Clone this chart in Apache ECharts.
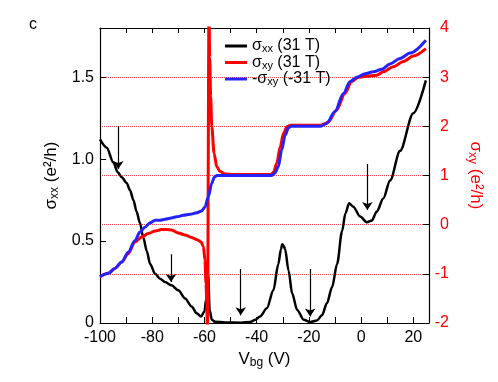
<!DOCTYPE html>
<html><head><meta charset="utf-8">
<script src="https://cdn.jsdelivr.net/npm/echarts@6/dist/echarts.min.js"></script>
<style>html,body{margin:0;padding:0;background:#fff}#c{width:498px;height:382px}</style>
</head><body><div id="c"></div>
<script>
const FONT = '"Liberation Sans", Arial, Helvetica, sans-serif';

// sigma_xx (31 T), left axis (e^2/h)
const sxxX = [-100,-97.4,-94.9,-93.2,-91.7,-89.8,-88.5,-87.2,-86.0,-84.7,-83.4,-82.1,-80.8,-78.9,-77.0,-75.1,-72.6,-70.0,-67.4,-64.9,-63.0,-61.3,-60.0,-59.3,-58.6,-58.0,-57.2,-56.0,-52,-46,-42.5,-40.5,-38.7,-36.1,-33.6,-31.7,-30.7,-30.2,-29.6,-29.1,-27.8,-26.4,-24.5,-22.0,-19.5,-16.9,-15.0,-13.1,-11.1,-9.2,-7.3,-6.0,-4.6,-3.0,-0.4,2.2,4.1,6.0,8.5,11.1,14.9,20.0,24.8];
const sxxY = [1.12,1.07,0.98,0.92,0.89,0.855,0.81,0.75,0.68,0.61,0.52,0.44,0.36,0.30,0.27,0.25,0.23,0.20,0.15,0.10,0.06,0.04,0.07,0.15,0.30,0.08,0.02,0.008,0.003,0.002,0.006,0.02,0.04,0.09,0.20,0.36,0.45,0.48,0.47,0.45,0.32,0.18,0.08,0.02,0.006,0.016,0.047,0.12,0.22,0.36,0.56,0.67,0.73,0.71,0.65,0.615,0.626,0.68,0.76,0.87,1.05,1.28,1.48];

// sigma_xy (31 T), right axis (e^2/h)
const sxyX = [-100,-96.8,-94.3,-91.7,-89.2,-86.6,-84.0,-81.5,-78.9,-76.4,-74.4,-72.6,-70.0,-67.4,-64.9,-63.0,-61.3,-60.4,-59.8,-59.4,-59.1,-58.85,-58.25,-58.0,-57.6,-57.2,-56.3,-55.3,-54,-52,-49,-34.5,-33.5,-32.3,-31.0,-29.7,-28.4,-27,-15.5,-14,-12.6,-9.4,-6.2,-3.6,-1.1,2.1,6.0,8.5,12.3,16.2,20.0,24.8];
const sxyY = [-1.06,-0.99,-0.89,-0.76,-0.59,-0.35,-0.25,-0.18,-0.13,-0.10,-0.10,-0.11,-0.17,-0.21,-0.26,-0.30,-0.35,-0.45,-0.72,-1.2,-1.6,-2.3,4.5,3.4,2.6,2.0,1.45,1.18,1.08,1.03,1.02,1.02,1.07,1.25,1.58,1.86,1.99,2.02,2.02,2.05,2.09,2.33,2.67,2.91,3.0,3.02,3.04,3.11,3.21,3.32,3.43,3.58];

// -sigma_xy (-31 T), right axis (e^2/h)
const msxyX = [-100,-96.8,-94.3,-91.7,-89.2,-86.6,-84.7,-82.8,-80.8,-78.9,-77.0,-75.1,-73.2,-70.6,-68.1,-65.5,-63.0,-61.1,-59.8,-58.5,-57.2,-56.2,-55.2,-34.2,-33.0,-31.7,-30.4,-29.1,-27.8,-26.8,-15.5,-13.2,-10.0,-6.8,-4.2,-1.7,1.5,4.7,7.9,11.1,14.9,18.8,24.8];
const msxyY = [-1.06,-0.99,-0.89,-0.76,-0.56,-0.32,-0.15,-0.05,0.04,0.09,0.09,0.11,0.13,0.16,0.19,0.21,0.24,0.28,0.36,0.57,0.84,0.97,1.0,1.0,1.05,1.18,1.52,1.82,1.97,2.0,2.0,2.06,2.30,2.67,2.91,3.0,3.07,3.11,3.16,3.27,3.38,3.49,3.75];

// legend names
const legendNames = ['sxx', 'sxy', 'msxy'];
const legendText = {
  sxx: 'σ{sub|xx} (31 T)',
  sxy: 'σ{sub|xy} (31 T)',
  msxy: '-σ{sub|xy} (-31 T)'
};

// in-plot labels (left-axis coordinates)
const annX = [-96.2, -74.1, -44.0, -19.5, 3.4];
const annY = [0.376, 0.677, 1.01, 1.29, 1.60];
const annText = ['-1', '0', 'ν=1', '2', '3'];

// arrows (left-axis coordinates)
const arrowX = [-93, -72.8, -46.1, -19.5, 2.4];
const arrowTop = [1.20, 0.42, 0.33, 0.33, 0.97];
const arrowTip = [0.94, 0.25, 0.047, 0.04, 0.69];

const pairs = (xs, ys) => xs.map((x, i) => [x, ys[i]]);

const chart = echarts.init(document.getElementById('c'));
const subRich = { sub: { fontSize: 11, padding: [6, 0, 0, 0], fontFamily: FONT } };
const subRich17 = { sub: { fontSize: 12, padding: [7, 0, 0, 0], fontFamily: FONT } };

const option = {
  animation: false,
  backgroundColor: '#fff',
  textStyle: { fontFamily: FONT },
  grid: { left: 100, right: 69, top: 28, bottom: 59 },
  graphic: [{
    type: 'text', left: 29, top: 17,
    style: { text: 'c', fontSize: 16, fontFamily: FONT, fill: '#000' }
  }],
  legend: {
    orient: 'vertical', left: 220, top: 33,
    itemWidth: 22, itemHeight: 3, itemGap: 0, icon: 'rect',
    data: legendNames,
    formatter: n => legendText[n],
    textStyle: { fontSize: 16, fontFamily: FONT, color: '#000', lineHeight: 16, rich: subRich }
  },
  xAxis: [{
    type: 'value', min: -100, max: 26, interval: 10, position: 'bottom',
    axisLine: { show: true, onZero: false, lineStyle: { color: '#000', width: 1.2 } },
    axisTick: { show: true, inside: true, length: 6, lineStyle: { color: '#000' } },
    axisLabel: { fontSize: 16, color: '#000', margin: 7, fontFamily: FONT, showMaxLabel: false,
      formatter: v => (Math.round(v) % 20 === 0 && v <= 20) ? String(v) : '' },
    splitLine: { show: false },
    name: 'V{sub|bg} (V)', nameLocation: 'middle', nameGap: 25,
    nameTextStyle: { fontSize: 17, color: '#000', fontFamily: FONT, rich: subRich17 }
  }, {
    type: 'value', min: -100, max: 26, interval: 10, position: 'top',
    axisLine: { show: true, onZero: false, lineStyle: { color: '#000', width: 1.2 } },
    axisTick: { show: true, inside: true, length: 5, lineStyle: { color: '#000' } },
    axisLabel: { show: false }, splitLine: { show: false }
  }],
  yAxis: [{
    type: 'value', min: 0, max: 1.8, interval: 0.5, position: 'left',
    axisLine: { show: true, onZero: false, lineStyle: { color: '#000', width: 1.2 } },
    axisTick: { show: true, inside: true, length: 6, lineStyle: { color: '#000' } },
    axisLabel: { fontSize: 16, color: '#000', margin: 6, fontFamily: FONT, showMaxLabel: false,
      formatter: v => v === 0 ? '0' : (v > 1.7 ? '' : v.toFixed(1)) },
    splitLine: { show: false },
    name: 'σ{sub|xx} (e²/h)', nameLocation: 'middle', nameGap: 33, nameRotate: 90,
    nameTextStyle: { fontSize: 17, color: '#000', fontFamily: FONT, rich: subRich17 }
  }, {
    type: 'value', min: -2, max: 4, interval: 1, position: 'right',
    axisLine: { show: true, onZero: false, lineStyle: { color: '#000', width: 1.2 } },
    axisTick: { show: true, inside: true, length: 6, lineStyle: { color: '#000' } },
    axisLabel: { fontSize: 16, color: '#ff0000', margin: 20, align: 'right', fontFamily: FONT },
    splitLine: { show: true, showMinLine: false, showMaxLine: false,
      lineStyle: { color: '#e83a3a', type: 'dotted', width: 1, opacity: 0.9 } },
    name: 'σ{sub|xy} (e²/h)', nameLocation: 'middle', nameGap: 37, nameRotate: -90,
    nameTextStyle: { fontSize: 17, color: '#ff0000', fontFamily: FONT,
      rich: { sub: { fontSize: 12, padding: [7, 0, 0, 0], color: '#ff0000', fontFamily: FONT } } }
  }],
  series: [{
    name: 'sxx', type: 'line', xAxisIndex: 0, yAxisIndex: 0,
    data: pairs(sxxX, sxxY), showSymbol: false, symbol: 'none',
    smooth: 0.3, smoothMonotone: 'x', clip: true,
    color: '#000', lineStyle: { color: '#000', width: 2.5 }, z: 2
  }, {
    name: 'sxy', type: 'line', xAxisIndex: 0, yAxisIndex: 1,
    data: pairs(sxyX, sxyY), showSymbol: false, symbol: 'none',
    smooth: 0.3, smoothMonotone: 'x', clip: true,
    color: '#ff0000', lineStyle: { color: '#ff0000', width: 3 }, z: 3
  }, {
    name: 'msxy', type: 'line', xAxisIndex: 0, yAxisIndex: 1,
    data: pairs(msxyX, msxyY), showSymbol: false, symbol: 'none',
    smooth: 0.3, smoothMonotone: 'x', clip: true,
    color: '#2323ff', lineStyle: { color: '#2323ff', width: 3 }, z: 4
  }, {
    name: 'arrows', type: 'lines', coordinateSystem: 'cartesian2d', xAxisIndex: 0, yAxisIndex: 0,
    symbol: ['none', 'arrow'], symbolSize: [0, 8], silent: true, z: 5,
    lineStyle: { color: '#000', width: 1.2, opacity: 1 },
    data: arrowX.map((x, i) => ({ coords: [[x, arrowTop[i]], [x, arrowTip[i]]] }))
  }, {
    name: 'labels', type: 'scatter', xAxisIndex: 0, yAxisIndex: 0, silent: true, z: 6,
    symbolSize: 1, itemStyle: { opacity: 0 },
    data: annX.map((x, i) => [x, annY[i], annText[i]]),
    label: { show: true, position: 'inside', formatter: p => p.data[2],
      fontSize: 16, color: '#000', fontFamily: FONT }
  }]
};
chart.setOption(option);
</script>
</body></html>
